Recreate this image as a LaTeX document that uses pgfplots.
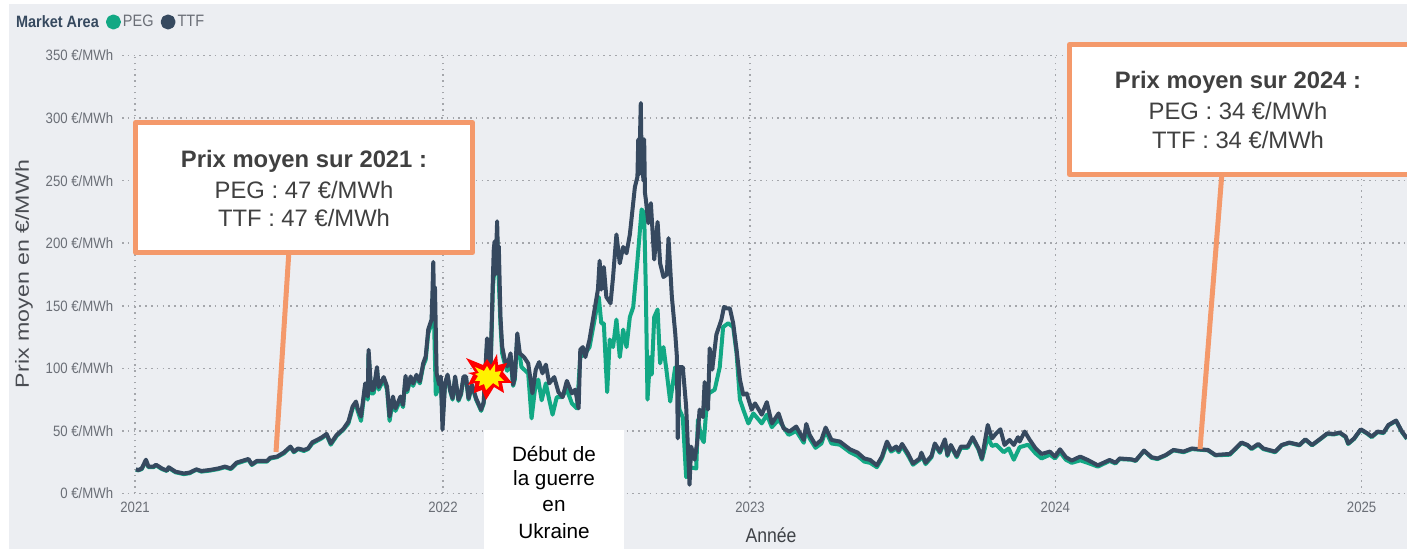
\documentclass[border=0pt]{standalone}
\usepackage{pgfplots}
\usepackage{pgfplotstable}
\usepackage{fontspec}
\pgfplotsset{compat=1.18}
\setmainfont{Liberation Sans}
\newfontfamily\narrow[FakeStretch=0.88]{Liberation Sans}
\newfontfamily\wide[FakeStretch=1.22]{Liberation Sans}
\definecolor{bgc}{HTML}{ECEEF2}
\definecolor{ttf}{HTML}{36495F}
\definecolor{peg}{HTML}{12A884}
\definecolor{orangeb}{HTML}{F4996B}
\definecolor{gridc}{HTML}{A4A6AB}
\definecolor{tickc}{HTML}{6A6E76}
\definecolor{boxt}{HTML}{404040}
\pgfplotstableread{
day val
1 19.3
4 18.8
8 20
13 27
16 21.5
22 21.5
25 23
32 20
38 18.3
40 21
48 17.5
58 16
65 16.7
73 19.3
79 18
89 18.8
99 20
107 21.5
114 20
121 24.7
135 27.6
139 23.3
145 26
157 26
161 28.6
169 29.5
177 32.7
185 37.5
189 33.5
194 36
201 34.8
206 36
211 40.9
222 44.7
228 47.6
233 40
240 46.8
248 51.6
254 57.5
259 69.5
263 73.5
265 68
269 61.5
274 88
277 77.5
278 114.8
281 82.8
284 82.8
288 101
290 85
296 93
300 85.5
303 61.5
307 77.5
310 68
316 77.5
319 70.8
322 94
324 82.8
328 93.5
331 88
335 94.8
339 89.5
343 104
346 109.5
349 131
353 139
354 160
355 185
356 150
357 165
359 96
362 87
364 93.5
366 51
369 88
372 95
375 83
378 76
381 93.5
385 75
388 80
391 93.5
394 93.5
397 76
401 87
406 76
412 67
415 73
419 124
423 96
426 173
427 195
428 201.5
429 175
431 217.5
432 190
433 197.5
435 141
437 117.5
440 107
443 101.5
447 112
450 87
452 93
455 128
458 112
463 109
468 104
473 80
477 99
481 105
485 96
489 103
493 88
499 93
504 81
509 77
514 90
520 80
524 83
528 68
530 115
533 117
536 109
541 123
547 147
551 163
553 186
555 163
558 181
561 157
566 152
569 173
573 207
577 184
581 197
585 192
589 207
595 245
598 253
599 283
600 255
602 312
603 265
604 283
605 250
606 283
607 240
608 235
611 216
614 232
618 187
622 217
625 184
629 173
633 175
635 204
639 157
643 128
645 109
646 44
648 101
652 101
656 69.5
660 7
662 37.5
666 27
669 40
672 67
676 61
678 89
682 67
684 116
687 99
692 127
698 139
701 149
704 148
708 148
712 136
716 115
720 91
724 79
728 80
734 67
738 72
746 63
752 73
758 56
766 64
772 52
779 49.5
787 53.5
796 42.8
799 55.6
803 46.8
810 38.8
817 42.8
822 52.7
829 42.8
839 41.5
851 35.3
860 32.7
868 28
875 26.8
883 22.5
889 29.5
895 41.5
900 34.8
906 37.5
909 34.3
913 39.6
920 32
926 24
934 28
936 32.6
941 24.6
948 30
952 40
958 33.5
964 43.3
967 30.8
971 38.8
978 30
983 37.5
991 37.5
997 45
1004 36
1008 28
1015 54.8
1020 44
1025 48
1030 51.3
1035 38.8
1041 42.8
1046 38.8
1051 45
1053 41.5
1059 49.5
1065 42.8
1072 36
1079 31.6
1089 33.5
1095 29.5
1101 35.3
1108 29
1115 26.3
1125 29.5
1134 26.8
1146 22.5
1160 26.8
1167 24.6
1172 28
1186 27.3
1191 26.3
1201 34.3
1210 29
1217 28
1227 30.8
1236 34.8
1248 33.5
1258 36
1267 35.3
1277 34.8
1286 30.8
1303 31.6
1310 36
1317 40.7
1324 38.8
1329 36
1337 39.6
1343 36
1357 33.5
1365 38.8
1374 40.7
1386 38.8
1393 43.3
1401 38.8
1410 43.3
1419 48
1427 47.6
1434 48.7
1441 45.5
1444 40
1451 44
1459 51.3
1467 48
1472 45.5
1479 49.5
1486 48.7
1492 54.8
1501 58.3
1508 49.5
1514 44
}\ttftable
\pgfplotstableread{
day val
1 19
4 18.5
8 19.5
13 26
16 21
22 21
25 22.5
32 19.5
38 18
40 20.5
48 17
58 15.5
65 16.2
73 19
79 17.5
89 18.3
99 19.5
107 21
114 19.5
121 24
135 27
139 22.8
145 25.5
157 25.5
161 28
169 29
177 32
185 37
189 33
194 35.5
201 34
206 35.5
211 40
222 44
228 47
233 39
240 46
248 51
254 56
259 68
263 72
265 66
269 58
274 86
277 75
278 112
281 80
284 80
288 99
290 83
296 91
300 83
303 58
307 75
310 66
316 75
319 69
322 92
324 81
328 92
331 86
335 93
339 88
343 102
346 107
349 128
353 136
355 165
358 79
362 85
364 92
366 60
369 87
372 94
375 82
378 75
381 92
385 74
388 79
391 92
394 92
397 75
401 86
406 75
412 66
415 72
419 118
423 94
426 165
431 205
435 135
437 112
440 104
443 98
447 108
450 86
452 91
455 124
460 101
468 96
472 60
476 83
480 91
484 74.5
489 88
493 75
497 63
502 77
508 77
514 83
520 72
526 68
530 109
536 112
541 117
547 139
552 157
555 136
558 136
562 81
565 123
569 117
573 139
577 109
581 131
585 117
589 141
593 149
598 186
603 227
606 224
608 163
610 75
613 109
615 95
618 141
622 147
625 104
629 117
633 96
637 73.5
643 101
648 67
652 61
656 13
660 21
668 20
670 59
674 45
677 41
680 67
683 80
690 83
696 101
700 133
706 136
712 133
716 112
720 75
724 67
730 56
736 64
746 56
752 63
758 53
766 59
778 46.8
787 50
796 40.5
799 52
803 44
810 36.5
817 40
822 50
829 40
839 39
851 33
860 30
868 25.5
875 24.5
883 21
889 28
895 40
900 33.5
906 36
909 33
913 38
920 30.5
926 23
934 27
936 31
941 23.5
948 29
952 39
958 32.5
964 42
967 30
971 38
978 29
983 36.5
991 36.5
997 44
1004 35
1008 27
1015 45
1020 38
1025 39
1034 33
1040 36
1046 27
1053 37
1063 39
1072 32
1079 28
1089 31
1095 28
1101 33
1108 27
1115 24.5
1125 26.5
1134 24.5
1146 21.5
1160 26
1167 24
1172 27.5
1186 27
1191 26
1201 34
1210 28.5
1217 27.5
1227 30.5
1236 34.5
1248 33
1258 35.5
1267 35
1277 34.5
1286 30.5
1303 31
1310 35.5
1317 40.4
1324 38.5
1329 35.5
1337 39
1343 35.5
1357 33
1365 38.5
1374 40.4
1386 38.5
1393 43
1401 38.5
1410 43
1419 47.6
1427 47.2
1434 48.3
1441 45
1444 39.6
1451 43.6
1459 51
1467 47.6
1472 45
1479 49
1486 48.3
1492 54.4
1501 58
1508 49
1514 43.6
}\pegtable
\begin{document}
\begin{tikzpicture}
\useasboundingbox (0pt,0pt) rectangle (1407pt,551pt);
\fill[white] (0pt,0pt) rectangle (1407pt,551pt);
\fill[bgc] (9pt,2pt) rectangle (1407pt,547pt);
\begin{axis}[
  at={(122pt,57.5pt)}, anchor=south west,
  scale only axis, width=1285pt, height=438pt,
  xmin=-15.5, xmax=1514, ymin=0, ymax=350,
  axis line style={draw=none}, tick style={draw=none},
  clip=false,
  xtick={0,366.5,732,1095.5,1460}, xticklabels={2021,2022,2023,2024,2025},
  ytick={0,50,100,150,200,250,300,350},
  yticklabels={0 €/MWh,50 €/MWh,100 €/MWh,150 €/MWh,200 €/MWh,250 €/MWh,300 €/MWh,350 €/MWh},
  grid=major,
  grid style={color=gridc,line width=1.5pt,dash pattern=on 1.5pt off 4.3pt},
  xticklabel style={font=\narrow\fontsize{15}{17}\selectfont,text=tickc,yshift=-1pt},
  yticklabel style={font=\narrow\fontsize{15}{17}\selectfont,text=tickc,xshift=-1pt},
  tick align=outside,
  legend columns=2,
  legend style={at={(-0.0125,1.0765)},anchor=west,draw=none,fill=none,
    font=\narrow\fontsize{16.5}{18}\selectfont\color{tickc},
    inner sep=0pt,outer sep=0pt,
    /tikz/every even column/.append style={column sep=5pt}},
  legend image code/.code={\fill[#1] (1.5pt,0pt) circle (5.5pt);},
]
\addplot[color=peg,line width=4pt,line join=round] table[x=day,y=val] {\pegtable};
\addlegendentry{PEG}
\addplot[color=ttf,line width=4pt,line join=round] table[x=day,y=val] {\ttftable};
\addlegendentry{TTF}
\end{axis}
\begin{scope}[x=1pt,y=-1pt,yshift=551pt]
  % legend title
  \node[anchor=west,inner sep=0pt,text=ttf,font=\narrow\bfseries\fontsize{16.4}{18}\selectfont] at (16,22) {Market Area};
  % axis titles
  \node[rotate=90,inner sep=0pt,text=tickc!70!black,font=\wide\fontsize{19}{21}\selectfont] at (24,274) {Prix moyen en €/MWh};
  \node[inner sep=0pt,text=tickc!60!black,font=\narrow\fontsize{20}{22}\selectfont] at (771,535) {Année};
  % leaders
  \draw[orangeb,line width=5pt] (289,250) -- (276,452);
  \draw[orangeb,line width=5pt] (1222,172) -- (1200,449);
  % boxes
  \draw[orangeb,fill=white,line width=5pt,line join=round] (135.5,122.5) rectangle (472.5,252.5);
  \draw[orangeb,fill=white,line width=5pt,line join=round] (1069.5,44.5) rectangle (1420,174.5);
  \node[text=boxt,font=\fontsize{23.8}{27}\bfseries\selectfont] at (304,161) {Prix moyen sur 2021 :};
  \node[text=boxt,font=\fontsize{23.8}{27}\selectfont] at (304,190) {PEG : 47 €/MWh};
  \node[text=boxt,font=\fontsize{23.8}{27}\selectfont] at (304,218) {TTF : 47 €/MWh};
  \node[text=boxt,font=\fontsize{23.8}{27}\bfseries\selectfont] at (1238,82) {Prix moyen sur 2024 :};
  \node[text=boxt,font=\fontsize{23.8}{27}\selectfont] at (1238,111) {PEG : 34 €/MWh};
  \node[text=boxt,font=\fontsize{23.8}{27}\selectfont] at (1238,140) {TTF : 34 €/MWh};
  % war note
  \fill[white] (484,430) rectangle (624,551);
  \node[text=black,font=\fontsize{20.7}{24}\selectfont] at (554,454) {Début de};
  \node[text=black,font=\fontsize{20.7}{24}\selectfont] at (554,480) {la guerre};
  \node[text=black,font=\fontsize{20.7}{24}\selectfont] at (554,506) {en};
  \node[text=black,font=\fontsize{20.7}{24}\selectfont] at (554,531) {Ukraine};
  % explosion
  \fill[red] (466,358) -- (483,365) -- (487,359) -- (491,365) -- (497,354) -- (498,365) -- (507,363) -- (503,372) -- (512,383) -- (502,383) -- (504,393) -- (494,387) -- (486,400) -- (482,390) -- (474,393) -- (475,383) -- (468,385) -- (473,375) -- (468,373) -- (475,372) -- cycle;
  \fill[yellow] (475,367) -- (484,371) -- (487,366) -- (490,371) -- (495,364) -- (495,372) -- (501,371) -- (499,376) -- (504,381) -- (498,381) -- (499,387) -- (493,383) -- (486,390) -- (484,384) -- (479,386) -- (480,381) -- (475,381) -- (478,376) -- (475,374) -- (479,373) -- cycle;
\end{scope}
\end{tikzpicture}
\end{document}
